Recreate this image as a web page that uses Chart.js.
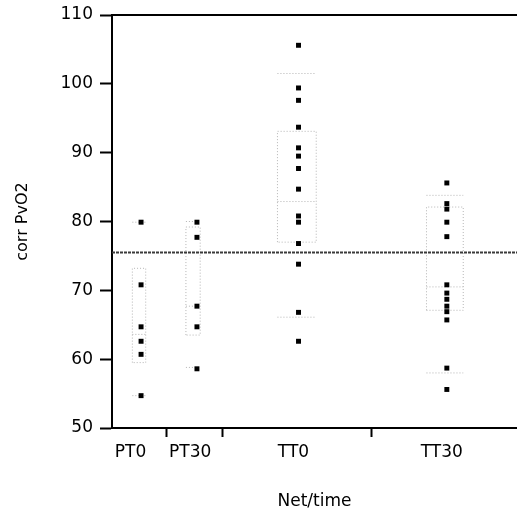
<!DOCTYPE html>
<html>
<head>
<meta charset="utf-8">
<script src="https://cdn.jsdelivr.net/npm/chart.js@4.4.1/dist/chart.umd.min.js"></script>
<style>
  html, body { margin: 0; padding: 0; background: #fff; }
  #wrap { width: 517px; height: 514px; position: relative; }
</style>
</head>
<body>
<div id="wrap"><canvas id="chart"></canvas></div>
<script>
// groups along the x axis (x in "width units", groups sized by sample count)
const groups = ["PT0", "PT30", "TT0", "TT30"];
const groupBounds = [0, 5.35, 10.9, 25.65, 40];
const labelX = [1.83, 7.72, 17.92, 32.57];
const pointX = [2.87, 8.39, 18.42, 33.07];

// corr PvO2 values
const pt0 = [79.9, 70.8, 64.7, 62.6, 60.7, 54.7];
const pt30 = [79.9, 77.7, 67.7, 64.7, 58.6];
const tt0 = [105.6, 99.4, 97.6, 93.7, 90.7, 89.5, 87.7, 84.7, 80.8, 79.9, 76.8, 73.8, 66.8, 62.6];
const tt30 = [85.6, 82.6, 81.8, 79.9, 77.8, 70.8, 69.6, 68.7, 67.7, 66.9, 65.7, 58.7, 55.6];
const series = [pt0, pt30, tt0, tt30];

// quantile boxes per group
const boxLow = [54.7, 58.8, 66.1, 58.0];
const boxQ1 = [59.5, 63.5, 77.0, 67.1];
const boxMed = [63.6, 67.7, 82.9, 70.5];
const boxQ3 = [73.2, 79.2, 93.1, 82.1];
const boxHigh = [79.9, 80.0, 101.5, 83.8];
const boxLeft = [2.01, 7.3, 16.34, 31.06];
const boxRight = [3.33, 8.71, 20.17, 34.69];

const grandMean = 75.5;
const yTicks = [50, 60, 70, 80, 90, 100, 110];

const FONT = "'DejaVu Sans', sans-serif";

// scatter points
let points = [];
series.forEach((vals, i) => {
    vals.forEach(v => points.push({ x: pointX[i], y: v }));
});

// box outlines as one broken line (null = gap)
let boxPath = [];
groups.forEach((g, i) => {
    const l = boxLeft[i], r = boxRight[i];
    boxPath.push({ x: l, y: boxQ1[i] }, { x: l, y: boxQ3[i] }, { x: r, y: boxQ3[i] }, { x: r, y: boxQ1[i] }, { x: l, y: boxQ1[i] }, { x: l, y: null });
    boxPath.push({ x: l, y: boxMed[i] }, { x: r, y: boxMed[i] }, { x: r, y: null });
    boxPath.push({ x: l, y: boxHigh[i] }, { x: r, y: boxHigh[i] }, { x: r, y: null });
    boxPath.push({ x: l, y: boxLow[i] }, { x: r, y: boxLow[i] }, { x: r, y: null });
});

const innerBounds = groupBounds.slice(1, -1);

function noPad(scale) {
    scale.paddingLeft = 0;
    scale.paddingRight = 0;
    scale.paddingTop = 0;
    scale.paddingBottom = 0;
}

new Chart(document.getElementById("chart"), {
    type: "scatter",
    data: {
        datasets: [
            {
                type: "line",
                data: [{ x: groupBounds[0], y: grandMean }, { x: groupBounds[groupBounds.length - 1], y: grandMean }],
                borderColor: "#3a3a3a",
                borderWidth: 2,
                borderDash: [3, 1],
                pointRadius: 0,
                order: 2
            },
            {
                type: "line",
                data: boxPath,
                borderColor: "#b4b4b4",
                borderWidth: 1,
                borderDash: [1, 2],
                pointRadius: 0,
                spanGaps: false,
                order: 3
            },
            {
                data: points,
                pointStyle: "rect",
                pointRadius: 3.5,
                backgroundColor: "#000",
                borderWidth: 0,
                order: 1
            }
        ]
    },
    options: {
        responsive: true,
        maintainAspectRatio: false,
        animation: false,
        layout: { padding: 0, autoPadding: false },
        plugins: {
            legend: { display: false },
            tooltip: { enabled: false }
        },
        scales: {
            x: {
                type: "linear",
                position: "bottom",
                min: groupBounds[0],
                max: groupBounds[groupBounds.length - 1],
                afterBuildTicks: function (scale) {
                    let vals = innerBounds.concat(labelX).sort((a, b) => a - b);
                    scale.ticks = vals.map(v => ({ value: v }));
                },
                afterFit: function (scale) { scale.height = 86; noPad(scale); },
                ticks: {
                    autoSkip: false,
                    maxRotation: 0,
                    padding: 5,
                    color: "#000",
                    font: { family: FONT, size: 17 },
                    callback: function (value) {
                        let idx = labelX.indexOf(value);
                        return idx >= 0 ? groups[idx] : "";
                    }
                },
                grid: {
                    drawOnChartArea: false,
                    tickLength: 9,
                    tickWidth: 2,
                    tickColor: ctx => (ctx.tick && innerBounds.includes(ctx.tick.value)) ? "#000" : "rgba(0,0,0,0)"
                },
                border: { color: "#000", width: 2 },
                title: {
                    display: true,
                    text: "Net/time",
                    align: "center",
                    color: "#000",
                    font: { family: FONT, size: 17 },
                    padding: { top: 0, bottom: 2 }
                }
            },
            xTop: {
                type: "linear",
                position: "top",
                min: groupBounds[0],
                max: groupBounds[groupBounds.length - 1],
                afterFit: function (scale) { scale.height = 15; noPad(scale); },
                ticks: { display: false },
                grid: { drawOnChartArea: false, drawTicks: false },
                border: { color: "#000", width: 2 }
            },
            y: {
                type: "linear",
                min: 50,
                max: 110,
                afterBuildTicks: function (scale) {
                    scale.ticks = yTicks.map(v => ({ value: v }));
                },
                afterFit: function (scale) { scale.width = 112; noPad(scale); },
                ticks: {
                    padding: 7,
                    color: "#000",
                    font: { family: FONT, size: 17 }
                },
                grid: {
                    drawOnChartArea: false,
                    tickLength: 12,
                    tickWidth: 2,
                    tickColor: "#000"
                },
                border: { color: "#000", width: 2 },
                title: {
                    display: true,
                    text: "corr PvO2",
                    color: "#000",
                    font: { family: FONT, size: 16 },
                    padding: { top: 13, bottom: 0 }
                }
            }
        }
    }
});
</script>
</body>
</html>
